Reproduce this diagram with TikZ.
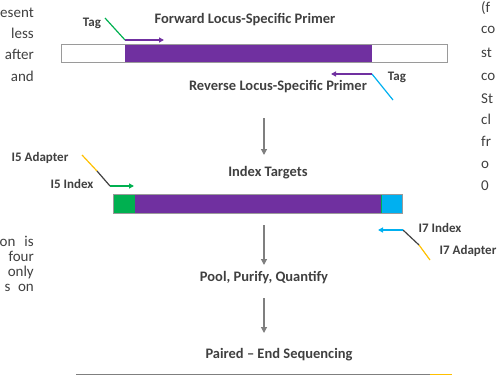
\documentclass[tikz,border=0pt]{standalone}
\usepackage{fontspec}
\setmainfont{Carlito}
\usetikzlibrary{arrows.meta}
\definecolor{purp}{HTML}{7030A0}
\definecolor{grn}{HTML}{00B050}
\definecolor{cyn}{HTML}{00B0F0}
\definecolor{yel}{HTML}{FFC000}
\definecolor{txt}{HTML}{404040}
\definecolor{arr}{HTML}{7F7F7F}
\definecolor{outl}{HTML}{9A9A9A}
\definecolor{dk}{HTML}{404040}
\tikzset{
  lbl/.style={font=\bfseries\fontsize{13}{15}\selectfont, text=txt, inner sep=0pt},
  mainlbl/.style={font=\bfseries\fontsize{14.5}{17}\selectfont, text=txt, inner sep=0pt},
  side/.style={font=\fontsize{15}{18}\selectfont, text=txt, inner sep=0pt},
  flow/.style={draw=arr, line width=1.2pt, -{Triangle[length=6pt,width=6pt]}},
  small/.style={line width=1.2pt, -{Triangle[length=5pt,width=5pt]}},
  barbox/.style={draw=outl, line width=1pt},
}
\begin{document}
\begin{tikzpicture}[x=1pt,y=-1pt]
\useasboundingbox (0,0) rectangle (499,375);
\clip (0,0) rectangle (499,375);
% side fragments (left)
\node[side, anchor=base east] (l1) at (34,17) {esent};
\node[side, anchor=base east] (l2) at (34,38) {less};
\node[side, anchor=base east] (l3) at (34,59) {after};
\node[side, anchor=base east] (l4) at (34,81) {and};
\node[side, anchor=base east] (l5) at (34,246) {on\hspace{0.6em}is};
\node[side, anchor=base east] (l6) at (34,261) {four};
\node[side, anchor=base east] (l7) at (34,276) {only};
\node[side, anchor=base east] (l8) at (34,291) {s\hspace{0.5em}on};
% side fragments (right)
\node[side, anchor=base west] (r1) at (481,12) {(f};
\node[side, anchor=base west] (r2) at (481,33) {co};
\node[side, anchor=base west] (r3) at (481,57) {st};
\node[side, anchor=base west] (r4) at (481,80) {co};
\node[side, anchor=base west] (r5) at (481,103) {St};
\node[side, anchor=base west] (r6) at (481,124) {cl};
\node[side, anchor=base west] (r7) at (481,146) {fr};
\node[side, anchor=base west] (r8) at (481,168) {o};
\node[side, anchor=base west] (r9) at (481,190) {0};

% top bar
\fill[purp] (125,44) rectangle (372,62);
\draw[barbox] (61,44) rectangle (447,62);
\node[mainlbl] (fwd) at (245,20) {Forward Locus-Specific Primer};
\node[lbl] (tag1) at (92,23) {Tag};
\coordinate (t1a) at (105,18);
\coordinate (t1b) at (125,40);
\coordinate (t1c) at (164,40);
\draw[grn, line width=1.2pt] (t1a) -- (t1b);
\draw[small, purp] (t1b) -- (t1c);

\node[mainlbl] (rev) at (278,87) {Reverse Locus-Specific Primer};
\node[lbl] (tag2) at (397,77) {Tag};
\coordinate (t2a) at (393,100);
\coordinate (t2b) at (372,74);
\coordinate (t2c) at (331,74);
\draw[cyn, line width=1.2pt] (t2a) -- (t2b);
\draw[small, purp] (t2b) -- (t2c);

% arrow 1
\coordinate (a1s) at (264,118);
\node[mainlbl] (idx) at (268,173) {Index Targets};
\draw[flow] (a1s) -- (264,155);

% index bar
\fill[purp] (135,194) rectangle (381,213);
\fill[grn] (113,194) rectangle (135,213);
\draw[draw=grn, fill=cyn, line width=0.8pt] (381,194) rectangle (402,213);
\draw[barbox] (113,194) rectangle (402,213);

\node[lbl] (i5a) at (40,158) {I5 Adapter};
\node[lbl] (i5i) at (72,184) {I5 Index};
\coordinate (i5p) at (82,155);
\coordinate (i5q) at (97,171);
\coordinate (i5r) at (110,186);
\coordinate (i5s) at (134,186);
\draw[yel, line width=1.2pt] (i5p) -- (i5q);
\draw[dk, line width=1.2pt] (i5q) -- (i5r);
\draw[small, grn] (i5r) -- (i5s);

\node[lbl] (i7i) at (440,228) {I7 Index};
\node[lbl] (i7a) at (468,251) {I7 Adapter};
\coordinate (i7p) at (430,260);
\coordinate (i7q) at (419,245);
\coordinate (i7r) at (403,230);
\coordinate (i7s) at (378,230);
\draw[yel, line width=1.2pt] (i7p) -- (i7q);
\draw[dk, line width=1.2pt] (i7q) -- (i7r);
\draw[small, cyn] (i7r) -- (i7s);

% arrow 2
\coordinate (a2s) at (264,225);
\draw[flow] (a2s) -- (264,265);
\node[mainlbl] (pool) at (264,278) {Pool, Purify, Quantify};

% arrow 3
\coordinate (a3s) at (264,298);
\draw[flow] (a3s) -- (264,333);
\node[mainlbl] (pe) at (279,355) {Paired – End Sequencing};

% bottom partial bar
\coordinate (b1) at (76,374.5);
\coordinate (b2) at (430,374.5);
\coordinate (b3) at (452,374.5);
\draw[arr, line width=1.5pt] (b1) -- (b2);
\draw[yel, line width=1.5pt] (b2) -- (b3);
\end{tikzpicture}
\end{document}
